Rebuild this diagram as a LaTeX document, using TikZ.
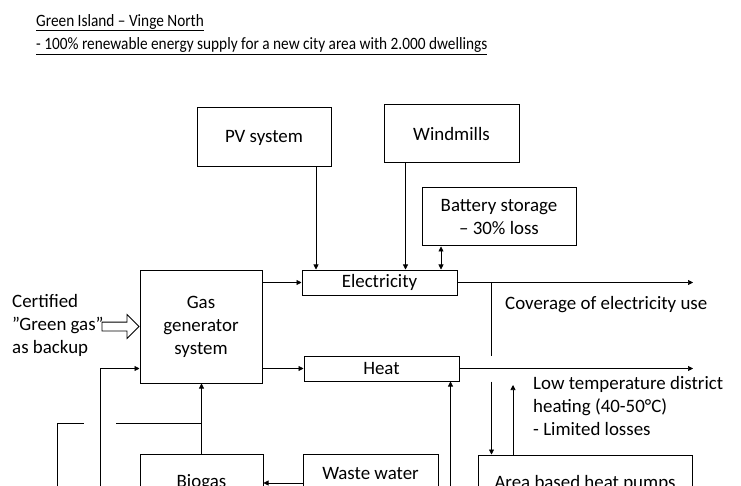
\documentclass[tikz,border=0pt]{standalone}
\usepackage{fontspec}
\usepackage{graphicx}
\setmainfont{Carlito}
\usetikzlibrary{arrows.meta,shapes.arrows,positioning}

\begin{document}
\begin{tikzpicture}[x=1pt,y=-1pt,
    font=\fontsize{18.9}{23}\selectfont,
    box/.style={draw, line width=1pt, inner sep=0pt, align=center},
    flow/.style={-{Triangle[length=5pt,width=5pt]}, line width=0.7pt},
    both/.style={{Triangle[length=5pt,width=5pt]}-{Triangle[length=5pt,width=5pt]}, line width=0.7pt},
    plain/.style={line width=0.7pt},
    txt/.style={inner sep=0pt, align=left},
    head/.style={inner sep=0pt, anchor=base west, font=\fontsize{17.3}{20}\selectfont}]

    \path[use as bounding box, clip] (0,0) rectangle (741,486);

    % title
    \node[head] (title) at (36,27) {\scalebox{0.885}[1]{Green Island – Vinge North}};
    \node[head] (subtitle) at (36,50) {\scalebox{0.885}[1]{- 100\% renewable energy supply for a new city area with 2.000 dwellings}};
    \draw[line width=0.9pt] ([yshift=-3.8pt]title.base west) -- ([yshift=-3.8pt]title.base east);
    \draw[line width=0.9pt] ([yshift=-4.5pt]subtitle.base west) -- ([yshift=-4.5pt]subtitle.base east);

    % boxes
    \node[box, minimum width=134, minimum height=59] (pv) at (264,137.5) {PV system};
    \node[box, minimum width=135, minimum height=58] (wind) at (451.5,134) {Windmills};
    \node[box, minimum width=154, minimum height=58] (battery) at (499,217) {Battery storage\\– 30\% loss};
    \node[box, minimum width=155, minimum height=25] (elec) at (379.5,282.5) {Electricity};
    \node[box, minimum width=155, minimum height=25] (heat) at (381.5,368.5) {Heat};
    \node[box, minimum width=122, minimum height=113] (gas) at (201,326.5) {Gas\\generator\\system};
    \node[box, minimum width=123, minimum height=58] (bio) at (201.5,483) {Biogas};
    \node[box, minimum width=135, minimum height=70] (waste) at (370.5,489) {};
    \node[txt, anchor=center] (wastetxt) at (370.5,474) {Waste water};
    \node[box, minimum width=214, minimum height=60] (hp) at (585,485) {};
    \node[txt, anchor=center] (hptxt) at (585,483) {Area based heat pumps};

    % texts
    \node[txt, anchor=west] (backup) at (12,325.5) {Certified\\”Green gas”\\as backup};
    \node[single arrow, draw, line width=0.8pt, minimum height=37, inner xsep=0pt, inner ysep=4pt,
          single arrow head extend=7.5, anchor=tip] (greengas) at (gas.west) {};
    \node[txt, anchor=base west] (coverage) at (505,309) {Coverage of electricity use};
    \node[txt, anchor=west] (lowtemp) at (533,406) {Low temperature district\\heating (40-50°C)\\- Limited losses};

    % electricity
    \draw[flow] ([xshift=52pt]pv.south) -- ([xshift=52pt]pv.south |- elec.north);
    \draw[flow] ([xshift=-46pt]wind.south) -- ([xshift=-46pt]wind.south |- elec.north);
    \draw[both] ([xshift=-58pt]battery.south) -- ([xshift=-58pt]battery.south |- elec.north);
    \draw[flow] (gas.east |- elec.west) -- (elec.west);
    \coordinate (elecend) at (693,282.5);
    \draw[flow] (elec.east) -- (elecend);

    % heat
    \draw[flow] (gas.east |- heat.west) -- (heat.west);
    \coordinate (heatend) at (693,368.5);
    \draw[flow] (heat.east) -- (heatend);
    \coordinate (tap) at (491.5,282.5);
    \draw[plain] (tap) -- (tap |- heat.north);
    \draw[flow] (tap |- heat.south) -- (tap |- hp.north);
    \draw[flow] (513,0 |- hp.north) -- (513,385);
    \draw[flow] ([xshift=69pt]heat.south |- 0,520) -- ([xshift=69pt]heat.south);

    % gas
    \draw[flow] (bio.north) -- (bio.north |- gas.south);
    \draw[plain] (57,520) -- (57,423) -- (84,423);
    \draw[plain] (116,423) -- (bio.north |- 0,423);
    \draw[flow] (100,520) |- (gas.west |- heat.west);
    \draw[flow] (waste.west |- bio.east) -- (bio.east);
\end{tikzpicture}
\end{document}
